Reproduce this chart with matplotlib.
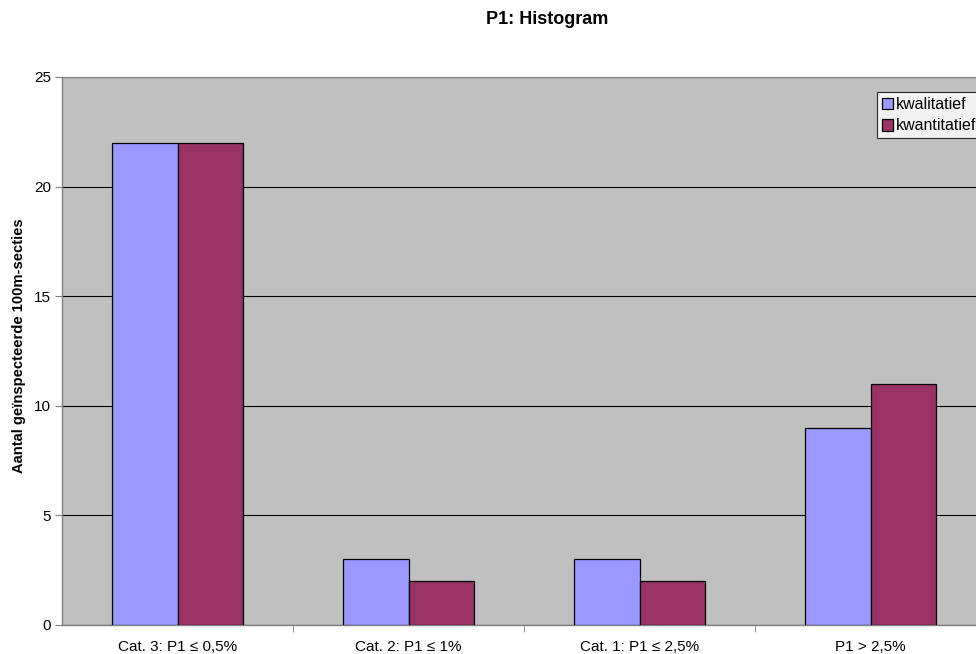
import matplotlib
matplotlib.use("Agg")
import matplotlib.pyplot as plt
import numpy as np
from matplotlib.patches import Patch

plt.rcParams["font.family"] = ["Liberation Sans", "DejaVu Sans"]

categories = ["Cat. 3: P1 \u2264 0,5%", "Cat. 2: P1 \u2264 1%",
              "Cat. 1: P1 \u2264 2,5%", "P1 > 2,5%"]
kwalitatief = [22, 3, 3, 9]
kwantitatief = [22, 2, 2, 11]
series_names = ["kwalitatief", "kwantitatief"]
colors = ["#9999FF", "#993366"]

fig = plt.figure(figsize=(9.76, 6.54), dpi=100)
ax = fig.add_axes([62 / 976, 29 / 654, 924 / 976, 548 / 654])
ax.set_facecolor("#C0C0C0")

x = np.arange(len(categories))
w = 0.284
ax.bar(x - w / 2, kwalitatief, w, color=colors[0], edgecolor="black",
       linewidth=0.9, zorder=3)
ax.bar(x + w / 2, kwantitatief, w, color=colors[1], edgecolor="black",
       linewidth=0.9, zorder=3)

ax.set_xlim(-0.5, len(categories) - 0.5)
ax.set_ylim(0, 25)
ax.set_yticks([0, 5, 10, 15, 20, 25])
ax.yaxis.grid(True, color="black", linewidth=0.8, zorder=1)
ax.set_axisbelow(True)

ax.set_xticks(x)
ax.set_xticklabels(categories, fontsize=11)
ax.set_xticks(np.arange(0.5, len(categories) - 0.5, 1), minor=True)
ax.tick_params(axis="x", which="major", length=0, pad=11)
ax.tick_params(axis="x", which="minor", length=5, direction="out",
               color="#808080")
ax.tick_params(axis="y", labelsize=11, length=5, direction="out",
               color="#808080", pad=3)

for side in ["top", "right"]:
    ax.spines[side].set_color("#808080")
    ax.spines[side].set_linewidth(0.8)
for side in ["left", "bottom"]:
    ax.spines[side].set_color("#808080")
    ax.spines[side].set_linewidth(1.0)

# y label placed in figure coords so it sits a little above the axes centre
fig.text(19 / 976, 1 - 346 / 654, "Aantal geïnspecteerde 100m-secties",
         rotation=90, ha="center", va="center", fontsize=10.6,
         fontweight="bold")

fig.text(547 / 976, 1 - 20 / 654, "P1: Histogram", ha="center", va="center",
         fontsize=13, fontweight="bold")

handles = [Patch(facecolor=c, edgecolor="black", linewidth=0.9) for c in colors]
leg = fig.legend(handles, series_names, loc="upper left",
                 bbox_to_anchor=(877 / 976, 1 - 92 / 654), fontsize=11.5,
                 frameon=True, fancybox=False, handlelength=0.7,
                 handleheight=0.7, handletextpad=0.2, borderpad=0.3,
                 labelspacing=0.42, borderaxespad=0)
leg.get_frame().set_edgecolor("black")
leg.get_frame().set_facecolor("white")
leg.get_frame().set_linewidth(0.8)

fig.savefig("out.png", dpi=100)
